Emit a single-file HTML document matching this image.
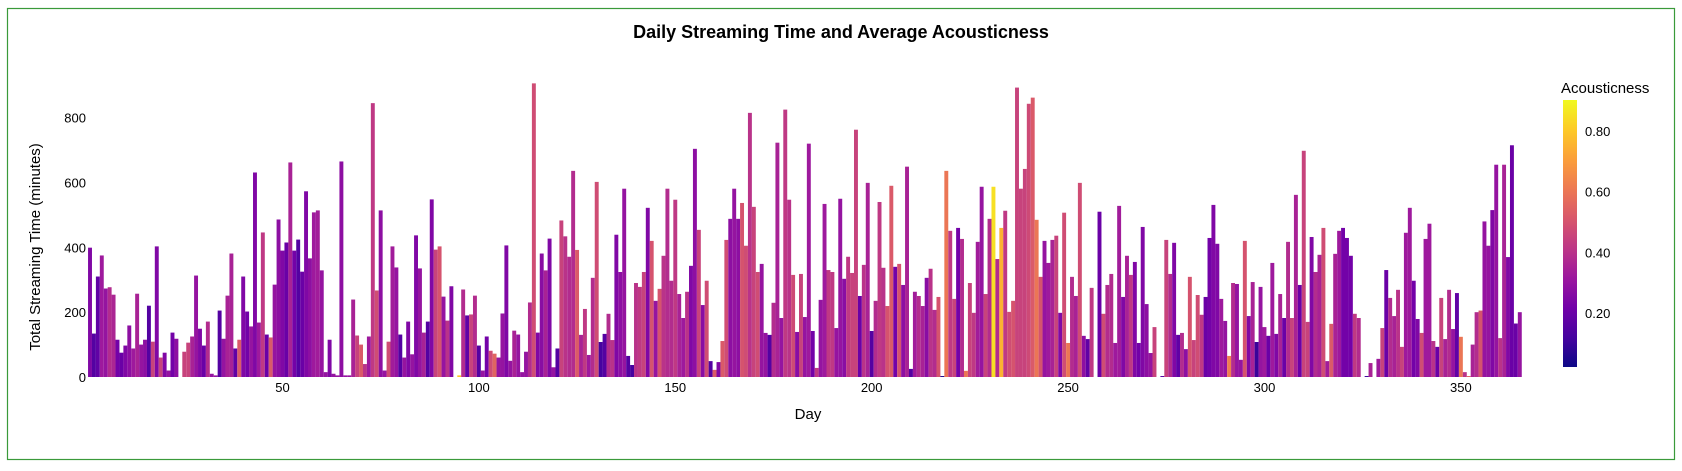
<!DOCTYPE html>
<html><head><meta charset="utf-8">
<style>
html,body{margin:0;padding:0;background:#fff;}
body{width:1682px;height:466px;overflow:hidden;font-family:"Liberation Sans",Arial,sans-serif;}
</style></head>
<body>
<svg id="chart" width="1682" height="466" xmlns="http://www.w3.org/2000/svg" font-family="Liberation Sans, Arial, sans-serif">
<rect x="7.5" y="8.5" width="1667" height="451" fill="#fff" stroke="#3a9a3a" stroke-width="1.2"/>
<text x="841" y="38" text-anchor="middle" font-size="18" font-weight="bold" fill="#000">Daily Streaming Time and Average Acousticness</text>
<text transform="translate(40,247) rotate(-90)" text-anchor="middle" font-size="15" fill="#000">Total Streaming Time (minutes)</text>
<text x="808" y="419" text-anchor="middle" font-size="15" fill="#000">Day</text>
<g id="bars"></g>
<g id="yticks"></g>
<g id="xticks"></g>
<text x="1561" y="93" font-size="15" fill="#000">Acousticness</text>
<defs><linearGradient id="plasma" x1="0" y1="1" x2="0" y2="0"></linearGradient></defs>
<rect x="1563" y="100" width="14" height="267" fill="url(#plasma)"/>
<g id="cbticks"></g>
</svg>
<script>
const streamMinutes = [
399,134,310,375,273,277,254,115,75,97,159,88,257,100,115,220,109,403,60,75,20,137,118,0,78,106,125,313,149,97,
171,10,5,205,118,251,381,88,115,310,202,156,631,168,446,131,122,285,486,390,415,662,390,424,325,573,366,508,514,329,
15,115,10,5,665,5,5,239,128,100,40,125,845,267,514,20,109,403,338,131,60,171,70,437,335,137,171,548,393,403,248,
174,280,0,5,270,190,193,251,97,20,125,81,72,60,196,406,50,143,131,15,78,230,906,137,381,329,427,30,88,483,434,
371,636,392,130,210,68,306,602,108,133,195,114,439,324,581,65,37,290,278,324,522,420,235,272,374,581,297,547,256,
182,263,343,704,454,222,297,49,22,46,111,423,488,581,488,537,405,815,525,324,349,136,130,229,723,182,825,547,
315,139,318,185,720,142,28,238,534,330,324,151,550,303,371,321,763,250,346,599,142,235,540,337,219,590,340,349,284,
649,25,263,250,219,306,334,207,247,3,636,451,241,460,426,19,290,198,417,587,256,488,587,364,460,513,201,235,893,
581,642,843,862,485,309,420,352,423,436,198,507,105,309,250,599,127,117,275,0,510,195,284,318,105,528,247,374,315,
355,105,463,225,74,154,0,3,423,318,414,130,136,86,309,114,253,192,247,429,531,411,241,173,65,290,287,53,
420,188,293,108,278,154,127,352,133,256,182,417,182,562,284,698,170,432,324,377,460,49,164,380,451,460,429,374,195,
182,0,3,43,0,56,151,330,244,188,269,93,445,522,297,179,136,426,473,111,93,244,117,269,148,259,124,15,3,
100,200,205,480,405,515,655,120,655,370,715,165,200];
const acousticness = [
0.25,0.15,0.18,0.32,0.3,0.38,0.36,0.22,0.2,0.25,0.28,0.32,0.35,0.3,0.28,0.15,0.45,0.25,0.45,0.25,0.3,0.22,0.28,0.3,0.45,0.45,0.35,0.3,0.25,0.2,
0.38,0.3,0.3,0.15,0.3,0.35,0.35,0.18,0.52,0.25,0.22,0.3,0.25,0.32,0.42,0.2,0.52,0.3,0.28,0.25,0.2,0.35,0.22,0.15,0.2,0.25,0.28,0.32,0.33,0.3,
0.3,0.25,0.3,0.3,0.28,0.3,0.3,0.35,0.45,0.52,0.4,0.32,0.42,0.48,0.28,0.3,0.48,0.33,0.3,0.15,0.3,0.25,0.3,0.25,0.3,0.35,0.15,0.25,0.45,0.5,
0.3,0.4,0.25,0.3,0.8,0.38,0.18,0.45,0.38,0.15,0.3,0.22,0.48,0.55,0.3,0.3,0.25,0.3,0.35,0.3,0.3,0.3,0.38,0.48,0.25,0.27,0.35,0.25,0.3,0.15,0.45,0.4,
0.38,0.38,0.52,0.35,0.42,0.32,0.38,0.48,0.12,0.15,0.38,0.4,0.25,0.28,0.3,0.15,0.12,0.4,0.42,0.45,0.25,0.5,0.3,0.5,0.4,0.38,0.38,0.42,0.35,
0.32,0.4,0.25,0.28,0.45,0.27,0.48,0.15,0.52,0.25,0.52,0.48,0.28,0.3,0.28,0.5,0.48,0.4,0.45,0.48,0.3,0.3,0.15,0.38,0.35,0.3,0.42,0.4,
0.47,0.27,0.45,0.3,0.32,0.22,0.42,0.3,0.32,0.42,0.42,0.3,0.3,0.27,0.42,0.45,0.45,0.2,0.4,0.35,0.15,0.38,0.42,0.4,0.5,0.52,0.22,0.5,0.28,
0.35,0.15,0.33,0.38,0.35,0.27,0.4,0.38,0.5,0.05,0.6,0.42,0.45,0.22,0.38,0.6,0.45,0.42,0.33,0.3,0.45,0.38,0.85,0.38,0.75,0.42,0.48,0.5,0.45,
0.45,0.45,0.47,0.52,0.6,0.5,0.3,0.32,0.35,0.45,0.25,0.48,0.6,0.38,0.35,0.48,0.28,0.18,0.42,0.05,0.2,0.48,0.38,0.38,0.32,0.33,0.25,0.35,0.42,
0.25,0.22,0.25,0.28,0.3,0.45,0.45,0.15,0.45,0.38,0.25,0.18,0.38,0.28,0.5,0.45,0.48,0.42,0.2,0.22,0.25,0.25,0.32,0.3,0.62,0.38,0.3,0.3,
0.5,0.25,0.35,0.1,0.3,0.32,0.2,0.32,0.25,0.35,0.2,0.38,0.45,0.35,0.2,0.45,0.45,0.25,0.38,0.35,0.48,0.33,0.52,0.35,0.32,0.22,0.22,0.22,0.42,
0.38,0.42,0.1,0.35,0.15,0.32,0.45,0.2,0.38,0.35,0.4,0.45,0.32,0.32,0.22,0.25,0.48,0.32,0.32,0.4,0.2,0.45,0.35,0.38,0.3,0.18,0.6,0.4,
0.55,0.35,0.38,0.5,0.3,0.3,0.25,0.3,0.4,0.35,0.25,0.2,0.2];
const yTickValues = [200,400,600,800];
const xTickValues = [50,100,150,200,250,300,350];
const cbTickValues = [0.2,0.4,0.6,0.8];
const cbTickLabels = ["0.20","0.40","0.60","0.80"];

const NS = "http://www.w3.org/2000/svg";
const X0 = 90, DX = 3.928, Y0 = 377, PY = 0.3241;
const CMIN = 0.022, CMAX = 0.902, CB_TOP = 100, CB_BOT = 367;
const plasma = ["#0d0887","#46039f","#7201a8","#9c179e","#bd3786","#d8576b","#ed7953","#fb9f3a","#fdca26","#f0f921"];
function xScale(d){ return X0 + (d-1)*DX; }
function yScale(v){ return Y0 - v*PY; }
function cbScale(v){ return CB_BOT - (v-CMIN)/(CMAX-CMIN)*(CB_BOT-CB_TOP); }
function hex(h){ return [1,3,5].map(i=>parseInt(h.substr(i,2),16)); }
function colorFor(v){
  let t = Math.max(0, Math.min(1, (v-CMIN)/(CMAX-CMIN)));
  const p = t*(plasma.length-1), i = Math.min(Math.floor(p), plasma.length-2), f = p-i;
  const a = hex(plasma[i]), b = hex(plasma[i+1]);
  return "rgb(" + a.map((c,k)=>Math.round(c+(b[k]-c)*f)).join(",") + ")";
}
const grad = document.getElementById("plasma");
plasma.forEach((c,i)=>{
  const s = document.createElementNS(NS,"stop");
  s.setAttribute("offset", (i/(plasma.length-1)*100)+"%");
  s.setAttribute("stop-color", c);
  grad.appendChild(s);
});
const gBars = document.getElementById("bars");
streamMinutes.forEach((v,i)=>{
  const d = i+1;
  const r = document.createElementNS(NS,"rect");
  r.setAttribute("x", (xScale(d)-DX/2).toFixed(2));
  r.setAttribute("y", yScale(v).toFixed(2));
  r.setAttribute("width", DX.toFixed(2));
  r.setAttribute("height", (v*PY).toFixed(2));
  r.setAttribute("fill", colorFor(acousticness[i] !== undefined ? acousticness[i] : 0.3));
  
  
  gBars.appendChild(r);
});
const gY = document.getElementById("yticks");
[0].concat(yTickValues).forEach(v=>{
  const t = document.createElementNS(NS,"text");
  t.setAttribute("x", 86); t.setAttribute("y", yScale(v)+5);
  t.setAttribute("text-anchor","end"); t.setAttribute("font-size","13");
  t.textContent = v;
  
  
  gY.appendChild(t);
});
const gX = document.getElementById("xticks");
xTickValues.forEach(v=>{
  const t = document.createElementNS(NS,"text");
  t.setAttribute("x", xScale(v)); t.setAttribute("y", 392);
  t.setAttribute("text-anchor","middle"); t.setAttribute("font-size","13");
  t.textContent = v;
  
  
  gX.appendChild(t);
});
const gC = document.getElementById("cbticks");
cbTickValues.forEach((v,i)=>{
  const t = document.createElementNS(NS,"text");
  t.setAttribute("x", 1585); t.setAttribute("y", cbScale(v)+5);
  t.setAttribute("font-size","13");
  t.textContent = cbTickLabels[i];
  
  
  gC.appendChild(t);
});
</script>
</body></html>
